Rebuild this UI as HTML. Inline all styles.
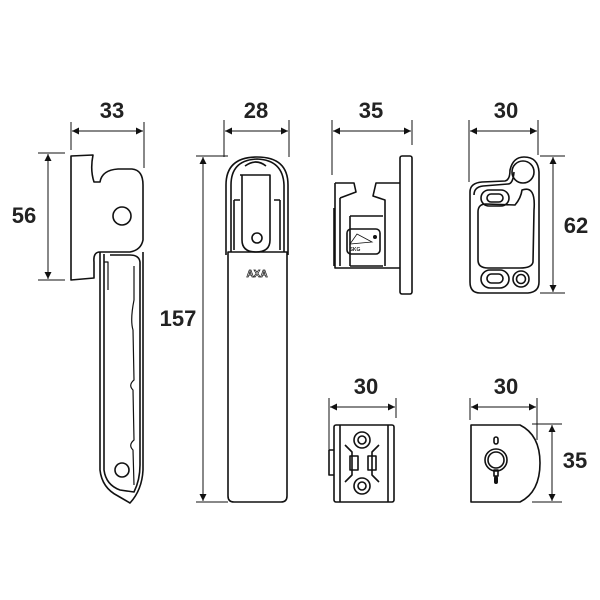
<!DOCTYPE html>
<html><head><style>
html,body{margin:0;padding:0;background:#fff;}
svg{display:block;}
text{font-family:"Liberation Sans",sans-serif;font-weight:bold;font-size:22px;fill:#222;text-anchor:middle;}
</style></head><body>
<svg width="600" height="600" viewBox="0 0 600 600" xmlns="http://www.w3.org/2000/svg">
<defs>
<marker id="a" viewBox="0 0 10 10" refX="10" refY="5" markerWidth="14" markerHeight="7" markerUnits="userSpaceOnUse" orient="auto-start-reverse"><path d="M0,0 L10,5 L0,10 z" fill="#111"/></marker>
</defs>
<g stroke="#111" stroke-width="1" fill="none">
<!-- dimension 33 -->
<line x1="71" y1="122" x2="71" y2="150"/><line x1="144" y1="122" x2="144" y2="168"/>
<line x1="72" y1="131" x2="143" y2="131" marker-start="url(#a)" marker-end="url(#a)"/>
<!-- 56 -->
<line x1="38" y1="153" x2="65" y2="153"/><line x1="38" y1="280" x2="65" y2="280"/>
<line x1="48" y1="154" x2="48" y2="279" marker-start="url(#a)" marker-end="url(#a)"/>
<!-- 28 -->
<line x1="224" y1="120" x2="224" y2="157"/><line x1="289" y1="120" x2="289" y2="157"/>
<line x1="225" y1="131" x2="288" y2="131" marker-start="url(#a)" marker-end="url(#a)"/>
<!-- 157 -->
<line x1="196" y1="156" x2="228" y2="156"/><line x1="196" y1="502" x2="228" y2="502"/>
<line x1="203" y1="157" x2="203" y2="501" marker-start="url(#a)" marker-end="url(#a)"/>
<!-- 35 top -->
<line x1="332" y1="120" x2="332" y2="175"/><line x1="412" y1="120" x2="412" y2="145"/>
<line x1="333" y1="131" x2="411" y2="131" marker-start="url(#a)" marker-end="url(#a)"/>
<!-- 30 top -->
<line x1="469" y1="120" x2="469" y2="182"/><line x1="538" y1="120" x2="538" y2="155"/>
<line x1="470" y1="131" x2="537" y2="131" marker-start="url(#a)" marker-end="url(#a)"/>
<!-- 62 -->
<line x1="540" y1="156" x2="565" y2="156"/><line x1="540" y1="293" x2="565" y2="293"/>
<line x1="553" y1="157" x2="553" y2="292" marker-start="url(#a)" marker-end="url(#a)"/>
<!-- 30 bottom mid -->
<line x1="329" y1="398" x2="329" y2="460"/><line x1="396" y1="398" x2="396" y2="418"/>
<line x1="330" y1="407" x2="395" y2="407" marker-start="url(#a)" marker-end="url(#a)"/>
<!-- 30 bottom right -->
<line x1="470" y1="398" x2="470" y2="420"/><line x1="537" y1="398" x2="537" y2="440"/>
<line x1="471" y1="407" x2="536" y2="407" marker-start="url(#a)" marker-end="url(#a)"/>
<!-- 35 bottom -->
<line x1="532" y1="424" x2="562" y2="424"/><line x1="532" y1="502" x2="562" y2="502"/>
<line x1="552" y1="425" x2="552" y2="501" marker-start="url(#a)" marker-end="url(#a)"/>
</g>
<text x="112" y="118">33</text>
<text x="24" y="223">56</text>
<text x="256" y="118">28</text>
<text x="178" y="326">157</text>
<text x="371" y="118">35</text>
<text x="506" y="118">30</text>
<text x="576" y="233">62</text>
<text x="366" y="394">30</text>
<text x="506" y="394">30</text>
<text x="575" y="468">35</text>

<g stroke="#111" stroke-width="1.6" fill="none" stroke-linejoin="round">
<!-- side handle -->
<path d="M71,156 L93,155 Q90,170 94,182 L100,182 Q102,170 118,169 L132,169 Q143,170 143,185 L143,240 Q141,250 130,252 L100,252 Q93,252 94,262 L94,278 L71,280 Z"/>
<circle cx="122" cy="216" r="9"/>
<path d="M100,252 L100,470 Q102,488 118,496 L130,503 Q142,490 143,470 L143,252"/>
<path d="M104,254 L104,285 M104,285 L104,470 Q106,485 120,490 L134,492 Q140,480 140,465 L140,262 Q139,255 130,255 L110,255"/>
<path d="M134,266 L134,300 Q130,320 133,330 L134,380 Q128,385 133,390 L134,440 Q128,445 133,450 L134,485" stroke-width="1.2"/>
<circle cx="122" cy="470" r="7"/>
<path d="M104,262 L108,262 L108,290" stroke-width="1.2"/>
<!-- front handle -->
<path d="M231,252 L231,185 Q231,160 257,159 Q283,160 284,185 L284,252"/>
<path d="M226,255 L226,185 Q226,157 257,157 Q288,157 288,185 L288,255"/>
<path d="M228,252 L228,496 Q228,502 234,502 L281,502 Q287,502 287,496 L287,252 Z"/>
<path d="M240,175 L270,175 L270,240 Q270,252 256,252 Q242,252 242,240 L242,175"/>
<path d="M245,166 Q256,158 266,166" />
<circle cx="257" cy="238" r="5"/>
<path d="M234,200 L240,200 M274,200 L280,200 M234,200 L234,250 M280,200 L280,250"/>
<!-- middle top part -->
<rect x="400" y="156" width="12" height="138" rx="2"/>
<path d="M335,183 L354,183 L356,192 L340,198 M400,183 L376,183 L373,196 L385,200 L385,266 M335,183 L335,268 L400,268"/>
<path d="M340,198 L340,266 M350,216 L383,216 M350,266 L383,266 M350,216 L350,266"/>
<rect x="347" y="229" width="33" height="25" rx="4"/>
<path d="M334,208 L334,266" />
<!-- right top part -->
<path d="M470,192 Q470,183 482,182 L505,181 Q510,180 510,170 Q513,157 524,157 Q538,157 539,172 L539,282 Q539,292 528,293 L480,293 Q470,293 470,282 Z"/>
<path d="M474,195 Q474,187 483,186 L508,184 Q513,184 514,172 M478,212 Q478,204 486,204 L515,205 Q521,198 522,190 Q536,185 534,210 L533,262 Q532,268 520,268 L488,268 Q478,268 478,260 Z"/>
<circle cx="523" cy="172" r="11"/>
<rect x="481" y="190" width="28" height="16" rx="8"/>
<rect x="487" y="194" width="16" height="8" rx="4"/>
<rect x="481" y="270" width="28" height="18" rx="9"/>
<rect x="487" y="274" width="16" height="9" rx="4.5"/>
<circle cx="521" cy="279" r="8"/><circle cx="521" cy="279" r="4.5"/>
<!-- bottom mid part -->
<rect x="334" y="425" width="60" height="77" rx="2"/>
<path d="M340,425 L340,502 M388,425 L388,502 M329,450 L334,450 M329,450 L329,475 L334,475"/>
<circle cx="362" cy="440" r="8"/><circle cx="362" cy="440" r="4"/>
<circle cx="362" cy="486" r="8"/><circle cx="362" cy="486" r="4"/>
<path d="M345,445 L352,452 L352,475 L345,482 M379,445 L372,452 L372,475 L379,482"/>
<rect x="350" y="456" width="8" height="14"/><rect x="368" y="456" width="8" height="14"/>
<!-- bottom right part -->
<path d="M471,425 L520,425 Q540,435 540,463 Q540,492 520,502 L471,502 Z"/>
<circle cx="496" cy="460" r="11"/><circle cx="496" cy="460" r="8"/>
<rect x="494" y="437" width="4" height="7" rx="2"/>
<rect x="494" y="470" width="4" height="6"/>
</g>
<rect x="494" y="476" width="4" height="8" rx="2" fill="#111"/>
<text x="257" y="277" style="font-size:10px;fill:#fff;stroke:#111;stroke-width:0.7">AXA</text>
<text x="355" y="251" style="font-size:5px">SKG</text>
<path d="M350,244 L357,234 L372,242 Z" stroke="#111" fill="none" stroke-width="0.8"/>
<circle cx="375" cy="237" r="2" fill="#111"/>
</svg>
</body></html>
